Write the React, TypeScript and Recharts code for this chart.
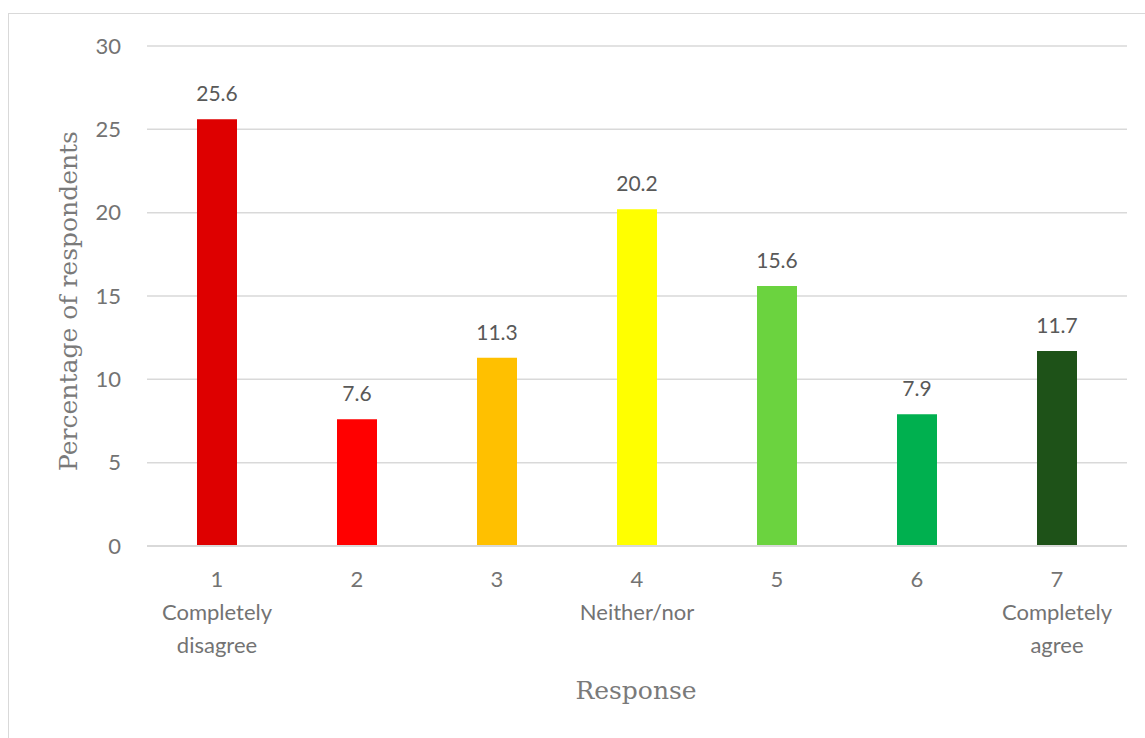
import { BarChart, Bar, XAxis, YAxis, CartesianGrid, Cell, LabelList, Label } from "recharts";

const categories = ["1", "2", "3", "4", "5", "6", "7"];
const subLabels = [["Completely", "disagree"], [], [], ["Neither/nor"], [], [], ["Completely", "agree"]];
const values = [25.6, 7.6, 11.3, 20.2, 15.6, 7.9, 11.7];
const colors = ["#DE0000", "#FF0000", "#FFC000", "#FFFF00", "#6BD33F", "#00B04F", "#1E5218"];
const yTicks = [0, 5, 10, 15, 20, 25, 30];

const data = categories.map((c, i) => ({ cat: c, value: values[i] }));

const SANS = "Lato, 'Open Sans', sans-serif";
const SERIF = "'DejaVu Serif', serif";

function XTick(props: any) {
  const { x, y, payload, index } = props;
  const lines = [payload.value, ...(subLabels[index] ?? [])];
  return (
    <text x={x} y={y} textAnchor="middle" fill="#737373" fontFamily={SANS} fontSize={22}>
      {lines.map((l: string, i: number) => (
        <tspan key={i} x={x} dy={33}>
          {l}
        </tspan>
      ))}
    </text>
  );
}

export default function App() {
  return (
    <div style={{ position: "absolute", left: 0, top: 0, width: 1145, height: 738, overflow: "hidden", background: "#fff" }}>
      <div
        style={{
          position: "absolute",
          left: 8,
          top: 13,
          width: 1160,
          height: 760,
          border: "1.5px solid #d9d9d9",
          boxSizing: "border-box",
        }}
      />
      <div style={{ position: "absolute", left: 0, top: 0 }}>
        <BarChart
          width={1145}
          height={738}
          data={data}
          margin={{ top: 46, right: 18, bottom: 0, left: 0 }}
          barCategoryGap={50}
        >
          <CartesianGrid vertical={false} stroke="#d9d9d9" strokeWidth={1.5} />
          <XAxis
            dataKey="cat"
            height={192}
            tickLine={false}
            axisLine={{ stroke: "#d9d9d9", strokeWidth: 2 }}
            tick={<XTick />}
            interval={0}
          >
            <Label
              content={() => (
                <text x={636} y={699} textAnchor="middle" fill="#7a7a7a" fontFamily={SERIF} fontSize={25}>
                  Response
                </text>
              )}
            />
          </XAxis>
          <YAxis
            width={147}
            domain={[0, 30]}
            ticks={yTicks}
            tickLine={false}
            axisLine={false}
            tick={{ fill: "#737373", fontSize: 22, fontFamily: SANS, dx: -18 }}
          >
            <Label
              content={() => (
                <text
                  x={0}
                  y={0}
                  transform="translate(77 301) rotate(-90)"
                  textAnchor="middle"
                  fill="#7a7a7a"
                  fontFamily={SERIF}
                  fontSize={25}
                >
                  Percentage of respondents
                </text>
              )}
            />
          </YAxis>
          <Bar dataKey="value" isAnimationActive={false}>
            {data.map((d, i) => (
              <Cell key={d.cat} fill={colors[i]} />
            ))}
            <LabelList dataKey="value" position="top" offset={18} fill="#595959" fontFamily={SANS} fontSize={21} />
          </Bar>
        </BarChart>
      </div>
    </div>
  );
}
